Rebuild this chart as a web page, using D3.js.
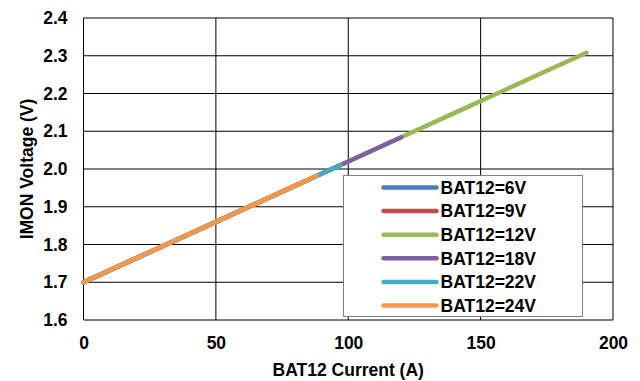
<!DOCTYPE html>
<html>
<head>
<meta charset="utf-8">
<script src="https://cdn.jsdelivr.net/npm/d3@7"></script>
<style>
  body { margin: 0; background: #fff; }
  text { font-family: "Liberation Sans", Arial, sans-serif; font-weight: bold; }
</style>
</head>
<body>
<div id="chart"></div>
<script>
// series names and colours
const seriesNames = ["BAT12=6V", "BAT12=9V", "BAT12=12V", "BAT12=18V", "BAT12=22V", "BAT12=24V"];
const seriesColors = ["#4a7ebb", "#be4b48", "#98b954", "#7d60a0", "#46aac5", "#f79646"];

// current (A) and IMON voltage (V)
const current6V  = [0, 10, 20, 30, 40, 50, 60];
const volts6V    = [1.700, 1.732, 1.764, 1.796, 1.828, 1.860, 1.892];
const current9V  = [0, 10, 20, 30, 40, 50, 60, 70, 80];
const volts9V    = [1.700, 1.732, 1.764, 1.796, 1.828, 1.860, 1.892, 1.924, 1.956];
const current12V = [0, 20, 40, 60, 80, 100, 120, 140, 160, 180, 190];
const volts12V   = [1.700, 1.764, 1.828, 1.892, 1.956, 2.020, 2.084, 2.148, 2.212, 2.276, 2.308];
const current18V = [0, 20, 40, 60, 80, 100, 120];
const volts18V   = [1.700, 1.764, 1.828, 1.892, 1.956, 2.020, 2.084];
const current22V = [0, 20, 40, 60, 80, 97];
const volts22V   = [1.700, 1.764, 1.828, 1.892, 1.956, 2.010];
const current24V = [0, 20, 40, 60, 80, 88];
const volts24V   = [1.700, 1.764, 1.828, 1.892, 1.956, 1.982];

const xTicks = [0, 50, 100, 150, 200];
const yTicks = [1.6, 1.7, 1.8, 1.9, 2.0, 2.1, 2.2, 2.3, 2.4];

const allCurrents = [current6V, current9V, current12V, current18V, current22V, current24V];
const allVolts = [volts6V, volts9V, volts12V, volts18V, volts22V, volts24V];

const series = seriesNames.map((name, i) => ({
  name: name,
  color: seriesColors[i],
  values: allCurrents[i].map((c, j) => ({ x: c, y: allVolts[i][j] }))
}));

const width = 640, height = 381;
const margin = { left: 83.5, right: 27, top: 18, bottom: 61 };
const fontSize = 17.5;

const svg = d3.select("#chart").append("svg")
  .attr("width", width)
  .attr("height", height);

const x = d3.scaleLinear().domain([0, 200]).range([margin.left, width - margin.right]);
const y = d3.scaleLinear().domain([1.6, 2.4]).range([height - margin.bottom, margin.top]);

// gridlines
svg.append("g").selectAll("line")
  .data(xTicks)
  .enter().append("line")
  .attr("x1", d => x(d)).attr("x2", d => x(d))
  .attr("y1", y(1.6)).attr("y2", y(2.4))
  .attr("stroke", "#000").attr("stroke-width", 1);

svg.append("g").selectAll("line")
  .data(yTicks)
  .enter().append("line")
  .attr("x1", x(0)).attr("x2", x(200))
  .attr("y1", d => y(d)).attr("y2", d => y(d))
  .attr("stroke", "#000").attr("stroke-width", 1);

// axes (labels only, lines drawn by grid)
const xAxis = svg.append("g")
  .attr("transform", `translate(0,${y(1.6)})`)
  .call(d3.axisBottom(x).tickValues(xTicks).tickSize(0).tickPadding(17));
xAxis.select(".domain").remove();
xAxis.selectAll("text").attr("font-size", fontSize).attr("fill", "#000");

const yAxis = svg.append("g")
  .attr("transform", `translate(${x(0)},0)`)
  .call(d3.axisLeft(y).tickValues(yTicks).tickFormat(d3.format(".1f")).tickSize(0).tickPadding(16));
yAxis.select(".domain").remove();
yAxis.selectAll("text").attr("font-size", fontSize).attr("fill", "#000");

// data lines
const line = d3.line().x(d => x(d.x)).y(d => y(d.y));
svg.append("g").selectAll("path")
  .data(series)
  .enter().append("path")
  .attr("d", d => line(d.values))
  .attr("fill", "none")
  .attr("stroke", d => d.color)
  .attr("stroke-width", 4.5)
  .attr("stroke-linecap", "round");

// axis titles
svg.append("text")
  .attr("x", (x(0) + x(200)) / 2)
  .attr("y", 376)
  .attr("text-anchor", "middle")
  .attr("font-size", fontSize)
  .text("BAT12 Current (A)");

svg.append("text")
  .attr("transform", `translate(33,${(y(1.6) + y(2.4)) / 2}) rotate(-90)`)
  .attr("text-anchor", "middle")
  .attr("font-size", fontSize)
  .text("IMON Voltage (V)");

// legend
const legend = svg.append("g").attr("transform", "translate(343.5,175.5)");
legend.append("rect")
  .attr("width", 239).attr("height", 141)
  .attr("fill", "#fff")
  .attr("stroke", "#7f7f7f").attr("stroke-width", 1);

const rows = legend.selectAll("g.row")
  .data(series)
  .enter().append("g")
  .attr("class", "row")
  .attr("transform", (d, i) => `translate(0,${12 + i * 23.6})`);

rows.append("line")
  .attr("x1", 40).attr("x2", 93)
  .attr("stroke", d => d.color)
  .attr("stroke-width", 4.5)
  .attr("stroke-linecap", "round");

rows.append("text")
  .attr("x", 97).attr("dy", "0.36em")
  .attr("font-size", fontSize)
  .text(d => d.name);
</script>
</body>
</html>
